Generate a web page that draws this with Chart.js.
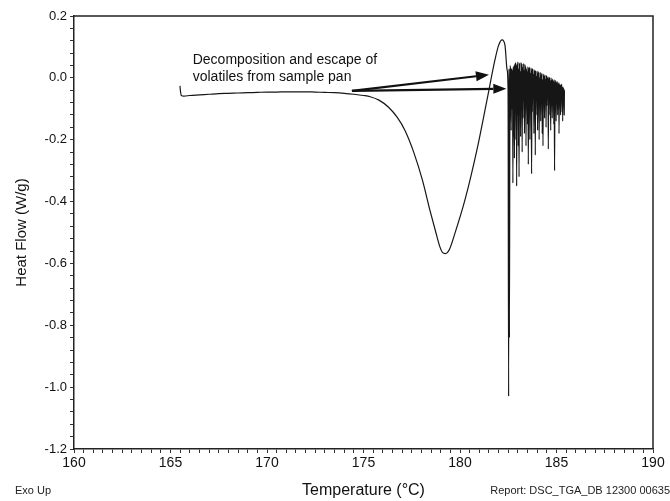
<!DOCTYPE html>
<html>
<head>
<meta charset="utf-8">
<script src="https://cdn.jsdelivr.net/npm/chart.js@4.4.1/dist/chart.umd.min.js"></script>
<style>
  body { margin: 0; background: #fff; }
  #wrap { width: 670px; height: 501px; position: relative; }
</style>
</head>
<body>
<div id="wrap"><canvas id="dsc"></canvas></div>
<script>
// smooth part of the trace: baseline, endotherm, exotherm peak, big spike
const tempMain = [165.49, 165.52, 165.56, 165.7, 166.0, 166.5, 167.0, 167.5, 168.0, 168.5,
  169.0, 169.5, 170.0, 170.5, 171.0, 171.5, 172.0, 172.5, 173.0, 173.5,
  174.0, 174.5, 175.0, 175.35, 175.8, 176.3, 176.75, 177.15, 177.6, 178.05,
  178.45, 178.75, 178.95, 179.1, 179.25, 179.45, 179.7, 180.26, 180.88, 181.4,
  181.81, 182.0, 182.18, 182.33, 182.44, 182.49, 182.52, 182.54, 182.56, 182.59];
const heatMain = [-0.026, -0.045, -0.057, -0.059, -0.057, -0.055, -0.053, -0.051, -0.05, -0.049,
  -0.048, -0.047, -0.046, -0.046, -0.045, -0.045, -0.045, -0.046, -0.047, -0.048,
  -0.05, -0.053, -0.057, -0.061, -0.072, -0.095, -0.128, -0.17, -0.24, -0.33,
  -0.43, -0.5, -0.545, -0.565, -0.568, -0.555, -0.51, -0.394, -0.232, -0.071,
  0.058, 0.105, 0.123, 0.106, 0.026, -0.039, -1.03, 0.03, -0.84, 0.04];

// decomposition / volatiles escaping: noisy part
const tempNoise = [182.625, 182.65, 182.675, 182.7, 182.725, 182.74, 182.76, 182.78, 182.8, 182.82,
  182.84, 182.86, 182.88, 182.9, 182.92, 182.935, 182.955, 182.975, 183.0, 183.02,
  183.04, 183.06, 183.08, 183.1, 183.12, 183.14, 183.16, 183.18, 183.2, 183.22,
  183.24, 183.26, 183.28, 183.3, 183.32, 183.34, 183.36, 183.38, 183.4, 183.42,
  183.44, 183.46, 183.48, 183.5, 183.52, 183.54, 183.56, 183.58, 183.6, 183.62,
  183.64, 183.66, 183.68, 183.71, 183.73, 183.75, 183.77, 183.79, 183.81, 183.83,
  183.85, 183.87, 183.89, 183.9, 183.92, 183.94, 183.96, 183.98, 184.0, 184.02,
  184.04, 184.06, 184.08, 184.1, 184.12, 184.14, 184.16, 184.18, 184.2, 184.22,
  184.24, 184.26, 184.28, 184.3, 184.32, 184.34, 184.36, 184.38, 184.4, 184.42,
  184.44, 184.46, 184.48, 184.5, 184.52, 184.54, 184.56, 184.575, 184.6, 184.62,
  184.64, 184.66, 184.68, 184.7, 184.72, 184.74, 184.76, 184.78, 184.8, 184.82,
  184.84, 184.86, 184.88, 184.9, 184.92, 184.94, 184.96, 184.98, 185.0, 185.02,
  185.04, 185.06, 185.08, 185.1, 185.12, 185.13, 185.15, 185.17, 185.19, 185.21,
  185.23, 185.25, 185.27, 185.29, 185.31, 185.32, 185.34, 185.36, 185.38, 185.4, 185.41];
const heatNoise = [0.02, -0.17, 0.03, -0.1, 0.025, -0.34, 0.035, -0.19, 0.04, -0.26,
  0.045, -0.08, 0.05, -0.2, 0.04, -0.35, 0.045, -0.12, 0.052, -0.22,
  0.03, -0.32, 0.048, -0.09, 0.02, -0.19, 0.05, -0.06, 0.045, -0.24,
  0.035, -0.13, 0.047, -0.07, 0.025, -0.18, 0.044, -0.1, 0.038, -0.22,
  0.03, -0.06, 0.02, -0.15, 0.036, -0.28, 0.03, -0.08, 0.035, -0.2,
  0.015, -0.07, 0.032, -0.31, 0.028, -0.11, 0.03, -0.05, 0.012, -0.18,
  0.026, -0.08, 0.02, -0.25, 0.024, -0.12, 0.005, -0.06, 0.022, -0.17,
  0.015, -0.09, 0.02, -0.2, 0.0, -0.05, 0.018, -0.14, 0.01, -0.08,
  0.015, -0.18, -0.005, -0.22, 0.012, -0.07, 0.005, -0.13, 0.01, -0.06,
  -0.004, -0.16, 0.008, -0.09, 0.0, -0.05, 0.004, -0.23, -0.002, -0.12,
  0.002, -0.07, -0.01, -0.17, 0.0, -0.08, -0.008, -0.13, -0.004, -0.06,
  -0.012, -0.15, -0.006, -0.3, -0.014, -0.09, -0.008, -0.14, -0.015, -0.07,
  -0.012, -0.12, -0.02, -0.08, -0.015, -0.18, -0.02, -0.07, -0.022, -0.12,
  -0.025, -0.06, -0.02, -0.11, -0.03, -0.14, -0.03, -0.08, -0.035, -0.12, -0.04];

const noteLines = ['Decomposition and escape of', 'volatiles from sample pan'];
const noteAt = [166.15, 0.058];          // first text line, data coords
const arrowFrom = [174.4, -0.042];
const arrowTips = [[181.5, 0.01], [182.4, -0.035]];

const temps = tempMain.concat(tempNoise);
const heat = heatMain.concat(heatNoise);
const points = temps.map((t, i) => ({ x: t, y: heat[i] }));

const isMajor = (v, every) => Math.abs(v / every - Math.round(v / every)) < 1e-6;
const FONT = '"Liberation Sans", Arial, sans-serif';

const extras = {
  id: 'extras',
  afterDatasetsDraw(chart) {
    const { ctx, chartArea: a, scales: { x, y } } = chart;
    ctx.save();
    // box
    ctx.strokeStyle = '#222'; ctx.lineWidth = 1.5;
    ctx.beginPath();
    ctx.moveTo(a.left, a.top); ctx.lineTo(a.right, a.top); ctx.lineTo(a.right, a.bottom);
    ctx.stroke();
    // annotation text
    ctx.fillStyle = '#111';
    ctx.font = '14px ' + FONT;
    ctx.textBaseline = 'middle';
    const tx = x.getPixelForValue(noteAt[0]), ty = y.getPixelForValue(noteAt[1]);
    noteLines.forEach((s, i) => ctx.fillText(s, tx, ty + i * 17));
    // arrows
    const fx = x.getPixelForValue(arrowFrom[0]), fy = y.getPixelForValue(arrowFrom[1]);
    ctx.lineWidth = 2.2; ctx.strokeStyle = '#111';
    arrowTips.forEach(([t, v]) => {
      const px = x.getPixelForValue(t), py = y.getPixelForValue(v);
      const ang = Math.atan2(py - fy, px - fx);
      const hl = 13, hw = 5;
      const bx = px - hl * Math.cos(ang), by = py - hl * Math.sin(ang);
      ctx.beginPath(); ctx.moveTo(fx, fy); ctx.lineTo(bx, by); ctx.stroke();
      ctx.beginPath();
      ctx.moveTo(px, py);
      ctx.lineTo(bx + hw * Math.sin(ang), by - hw * Math.cos(ang));
      ctx.lineTo(bx - hw * Math.sin(ang), by + hw * Math.cos(ang));
      ctx.closePath(); ctx.fill();
    });
    // footer notes
    ctx.font = '11px "Liberation Sans Narrow", "Liberation Sans", sans-serif';
    ctx.fillStyle = '#222';
    ctx.textAlign = 'left';
    ctx.fillText('Exo Up', 15, 491);
    ctx.textAlign = 'right';
    ctx.fillText('Report: DSC_TGA_DB 12300 00635', chart.width, 491);
    ctx.restore();
  }
};

new Chart(document.getElementById('dsc'), {
  type: 'scatter',
  data: {
    datasets: [{
      data: points,
      showLine: true,
      borderColor: '#161616',
      borderWidth: 1.2,
      pointRadius: 0,
      cubicInterpolationMode: 'monotone'
    }]
  },
  options: {
    responsive: true,
    maintainAspectRatio: false,
    animation: false,
    layout: { padding: { top: 16, right: 17, left: 0, bottom: 0 } },
    plugins: { legend: { display: false }, tooltip: { enabled: false } },
    scales: {
      x: {
        type: 'linear', min: 160, max: 190,
        afterFit: s => { s.height = 52; },
        grid: { drawOnChartArea: false, tickLength: 4, color: '#333' },
        border: { color: '#222', width: 1.5 },
        ticks: {
          stepSize: 0.5, autoSkip: false, maxRotation: 0, padding: 2,
          color: '#111', font: { family: FONT, size: 14 },
          callback: v => isMajor(v, 5) ? String(Math.round(v)) : ''
        },
        title: { display: true, text: 'Temperature (°C)', color: '#111',
                 font: { family: FONT, size: 16 }, padding: { bottom: 1 } }
      },
      y: {
        min: -1.2, max: 0.2,
        afterFit: s => { s.width = 74; },
        grid: { drawOnChartArea: false, tickLength: 4, color: '#333' },
        border: { color: '#222', width: 1.5 },
        ticks: {
          stepSize: 0.04, autoSkip: false, padding: 3,
          color: '#111', font: { family: FONT, size: 13 },
          callback: v => isMajor(v, 0.2) ? (Math.abs(v) < 1e-9 ? '0.0' : v.toFixed(1)) : ''
        },
        title: { display: true, text: 'Heat Flow (W/g)', color: '#111',
                 font: { family: FONT, size: 15 }, padding: { top: 13 } }
      }
    }
  },
  plugins: [extras]
});
</script>
</body>
</html>
